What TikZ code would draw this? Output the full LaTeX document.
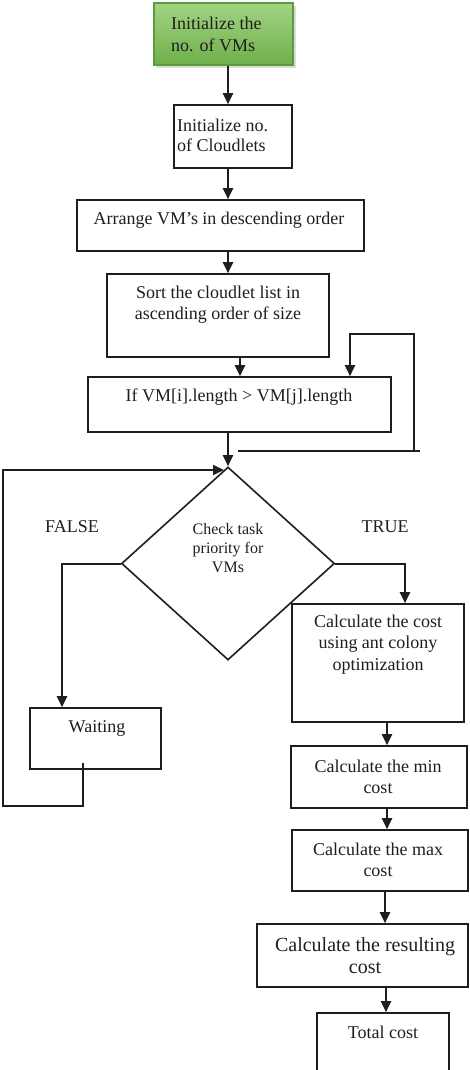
\documentclass[tikz,border=0pt]{standalone}
\usepackage{fontspec}
\setmainfont{Liberation Serif}
\usetikzlibrary{shapes.geometric,arrows.meta,shadows}
\definecolor{ink}{HTML}{1E1E1E}
\definecolor{gtop}{HTML}{A2D483}
\definecolor{gbot}{HTML}{6FAF4B}
\definecolor{gline}{HTML}{5E9A3E}
\begin{document}
\begin{tikzpicture}[x=1pt,y=-1pt,
  box/.style={draw=ink,line width=1.6pt,rectangle,inner sep=0pt},
  txt/.style={inner sep=0pt,font=\fontsize{18}{21}\selectfont,align=center,text=ink},
  arr/.style={draw=ink,line width=2pt,-{Triangle[length=11pt,width=10pt]}},
  ln/.style={draw=ink,line width=1.6pt}]
\useasboundingbox (0,0) rectangle (469,1070);
% column coordinates
\coordinate (cA) at (228,0);
\coordinate (cB) at (240,0);
\coordinate (cL) at (350,0);
\coordinate (cF) at (62,0);
\coordinate (cT) at (405,0);
\coordinate (cR) at (387,0);
\coordinate (cS) at (385,0);
\coordinate (cU) at (386,0);
% boxes
\node[box,draw=gline,top color=gtop,bottom color=gbot,
      drop shadow={shadow xshift=2.5pt,shadow yshift=-3pt,fill=gray!55},
      minimum width=139pt,minimum height=62pt] (g1) at (223.5,34) {};
\node[txt,align=left,anchor=west,font=\fontsize{18}{22}\selectfont] (g1t) at (171,34) {Initialize the\\no. of VMs};
\node[box,minimum width=118pt,minimum height=63pt] (b2) at (233,136.5) {};
\node[txt,align=left,anchor=west,font=\fontsize{18}{20}\selectfont] (b2t) at (177,135) {Initialize no.\\of Cloudlets};
\node[box,minimum width=287pt,minimum height=51pt] (b3) at (220.5,225.5) {};
\node[txt] (b3t) at (219,220) {Arrange VM’s in descending order};
\node[box,minimum width=222pt,minimum height=83pt] (b4) at (218,315.5) {};
\node[txt] (b4t) at (218,304.5) {Sort the cloudlet list in\\ascending order of size};
\node[box,minimum width=303pt,minimum height=55pt] (b5) at (239.5,404.5) {};
\node[txt] (b5t) at (239,397) {If VM[i].length > VM[j].length};
\node[draw=ink,line width=1.6pt,diamond,inner sep=0pt,minimum width=213pt,minimum height=193pt] (d) at (228,563.5) {};
\node[txt,font=\fontsize{16}{19}\selectfont] (dt) at (228,548) {Check task\\priority for\\VMs};
\node[txt] (fl) at (72,527) {FALSE};
\node[txt] (tr) at (385,527) {TRUE};
\node[box,minimum width=131pt,minimum height=61pt] (w) at (95.5,738.5) {};
\node[txt] (wt) at (97,728) {Waiting};
\node[box,minimum width=172pt,minimum height=118pt] (aco) at (378,663) {};
\node[txt,font=\fontsize{18}{21.5}\selectfont] (acot) at (378,644.5) {Calculate the cost\\using ant colony\\optimization};
\node[box,minimum width=176pt,minimum height=62pt] (mn) at (379,777) {};
\node[txt] (mnt) at (378,776.5) {Calculate the min\\cost};
\node[box,minimum width=176pt,minimum height=61pt] (mx) at (380,860.5) {};
\node[txt] (mxt) at (378,859.5) {Calculate the max\\cost};
\node[box,minimum width=211pt,minimum height=63pt] (rs) at (362.5,955.5) {};
\node[txt,font=\fontsize{20}{22}\selectfont] (rst) at (365,956) {Calculate the resulting\\cost};
\node[box,minimum width=132pt,minimum height=70pt] (tc) at (383,1048) {};
\node[txt] (tct) at (383,1032) {Total cost};
% loop coordinates
\coordinate (r1) at (238,451);
\coordinate (r2) at (420,451);
\coordinate (r3) at (414,451);
\coordinate (r4) at (414,334);
\coordinate (r5) at (350,334);
\coordinate (l1) at (83,763);
\coordinate (l2) at (83,806);
\coordinate (l3) at (3,806);
\coordinate (l4) at (3,470);
\coordinate (l5) at (224,470);
% connectors
\draw[arr] (g1.south -| cA) -- (b2.north -| cA);
\draw[arr] (b2.south -| cA) -- (b3.north -| cA);
\draw[arr] (b3.south -| cA) -- (b4.north -| cA);
\draw[arr] (b4.south -| cB) -- (b5.north -| cB);
\draw[arr] (b5.south -| cA) -- (d.north);
\draw[ln] (r1) -- (r2);
\draw[arr] (r3) -- (r4) -- (r5) -- (b5.north -| cL);
\draw[arr] (l1) -- (l2) -- (l3) -- (l4) -- (l5);
\draw[arr] (d.west) -- (d.west -| cF) -- (w.north -| cF);
\draw[arr] (d.east) -- (d.east -| cT) -- (aco.north -| cT);
\draw[arr] (aco.south -| cR) -- (mn.north -| cR);
\draw[arr] (mn.south -| cR) -- (mx.north -| cR);
\draw[arr] (mx.south -| cS) -- (rs.north -| cS);
\draw[arr] (rs.south -| cU) -- (tc.north -| cU);
\end{tikzpicture}
\end{document}
